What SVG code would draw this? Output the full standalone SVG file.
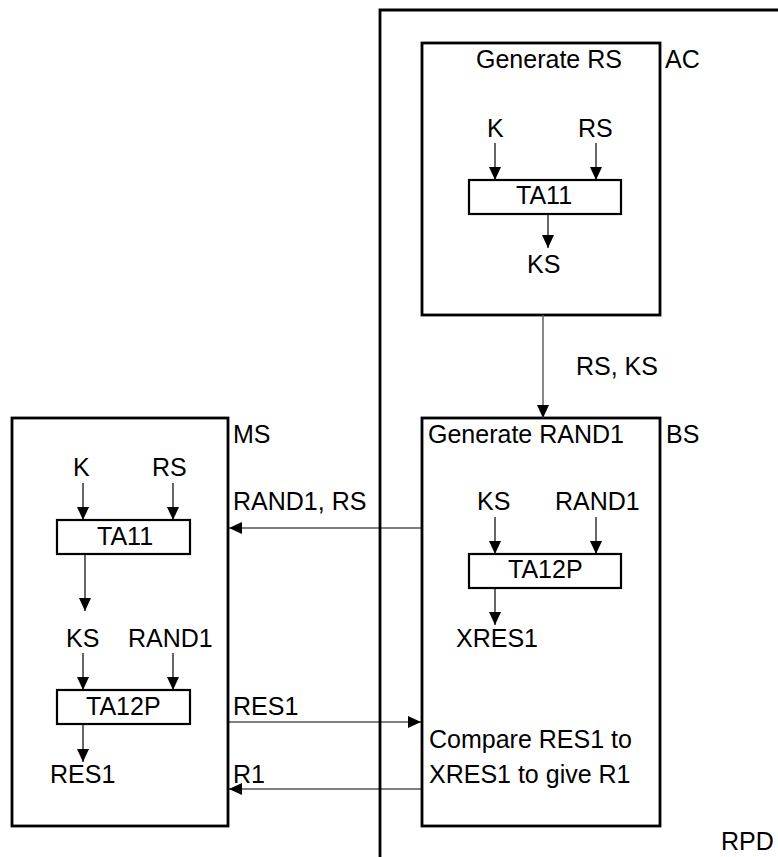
<svg xmlns="http://www.w3.org/2000/svg" width="778" height="857" viewBox="0 0 778 857">
<style>
text{font-family:"Liberation Sans",Arial,sans-serif;font-size:25px;fill:#000}
.box{fill:#fff;stroke:#000;stroke-width:2.8}
.fn{fill:#fff;stroke:#000;stroke-width:2.2}
.ln{stroke:#000;stroke-width:1.2;fill:none}
.gl{stroke:#555;stroke-width:1.4;fill:none}
.bd{stroke:#000;stroke-width:2.8;fill:none}
</style>
<defs>
<marker id="ah" markerUnits="userSpaceOnUse" markerWidth="13" markerHeight="13" refX="13" refY="6" orient="auto">
<path d="M0,0 L13,6 L0,12 z" fill="#000"/>
</marker>
</defs>
<g id="rpd">
<path class="bd" d="M380,857 V10 H778"/>
<text x="721" y="850">RPD</text>
</g>
<g id="ac">
<rect class="box" x="422" y="43" width="238" height="272"/>
<text x="476" y="68">Generate RS</text>
<text x="665" y="68">AC</text>
<text x="487" y="137">K</text>
<text x="578" y="137">RS</text>
<rect class="fn" x="469" y="180" width="152" height="34"/>
<text x="516" y="204">TA11</text>
<text x="527" y="273">KS</text>
<line class="ln" x1="495" y1="143" x2="495" y2="180" marker-end="url(#ah)"/>
<line class="ln" x1="596" y1="143" x2="596" y2="180" marker-end="url(#ah)"/>
<line class="ln" x1="548" y1="214" x2="548" y2="248" marker-end="url(#ah)"/>
</g>
<g id="bs">
<rect class="box" x="422" y="418" width="238" height="408"/>
<text x="428" y="443">Generate RAND1</text>
<text x="666" y="443">BS</text>
<text x="477" y="510">KS</text>
<text x="555" y="510">RAND1</text>
<rect class="fn" x="469" y="554" width="152" height="34"/>
<text x="508" y="578">TA12P</text>
<text x="456" y="647">XRES1</text>
<text x="429" y="748">Compare RES1 to</text>
<text x="429" y="783">XRES1 to give R1</text>
<line class="ln" x1="495" y1="517" x2="495" y2="554" marker-end="url(#ah)"/>
<line class="ln" x1="596" y1="517" x2="596" y2="554" marker-end="url(#ah)"/>
<line class="ln" x1="495" y1="588" x2="495" y2="625" marker-end="url(#ah)"/>
</g>
<g id="ms">
<rect class="box" x="12" y="418" width="216" height="408"/>
<text x="233" y="443">MS</text>
<text x="73" y="476">K</text>
<text x="152" y="476">RS</text>
<rect class="fn" x="57" y="520" width="133" height="34"/>
<text x="97" y="545">TA11</text>
<text x="66" y="647">KS</text>
<text x="128" y="647">RAND1</text>
<rect class="fn" x="57" y="690" width="133" height="34"/>
<text x="86" y="715">TA12P</text>
<text x="50" y="783">RES1</text>
<line class="ln" x1="83" y1="483" x2="83" y2="520" marker-end="url(#ah)"/>
<line class="ln" x1="173" y1="483" x2="173" y2="520" marker-end="url(#ah)"/>
<line class="ln" x1="85" y1="554" x2="85" y2="611" marker-end="url(#ah)"/>
<line class="ln" x1="83" y1="653" x2="83" y2="690" marker-end="url(#ah)"/>
<line class="ln" x1="173" y1="653" x2="173" y2="690" marker-end="url(#ah)"/>
<line class="ln" x1="83" y1="724" x2="83" y2="762" marker-end="url(#ah)"/>
</g>
<g id="connectors">
<line class="gl" x1="543" y1="315" x2="543" y2="418" marker-end="url(#ah)"/>
<line class="ln" x1="421" y1="528" x2="229" y2="528" marker-end="url(#ah)"/>
<line class="ln" x1="229" y1="722" x2="421" y2="722" marker-end="url(#ah)"/>
<line class="ln" x1="421" y1="789" x2="229" y2="789" marker-end="url(#ah)"/>
<text x="576" y="375">RS, KS</text>
<text x="233" y="510">RAND1, RS</text>
<text x="233" y="715">RES1</text>
<text x="233" y="783">R1</text>
</g>
</svg>
